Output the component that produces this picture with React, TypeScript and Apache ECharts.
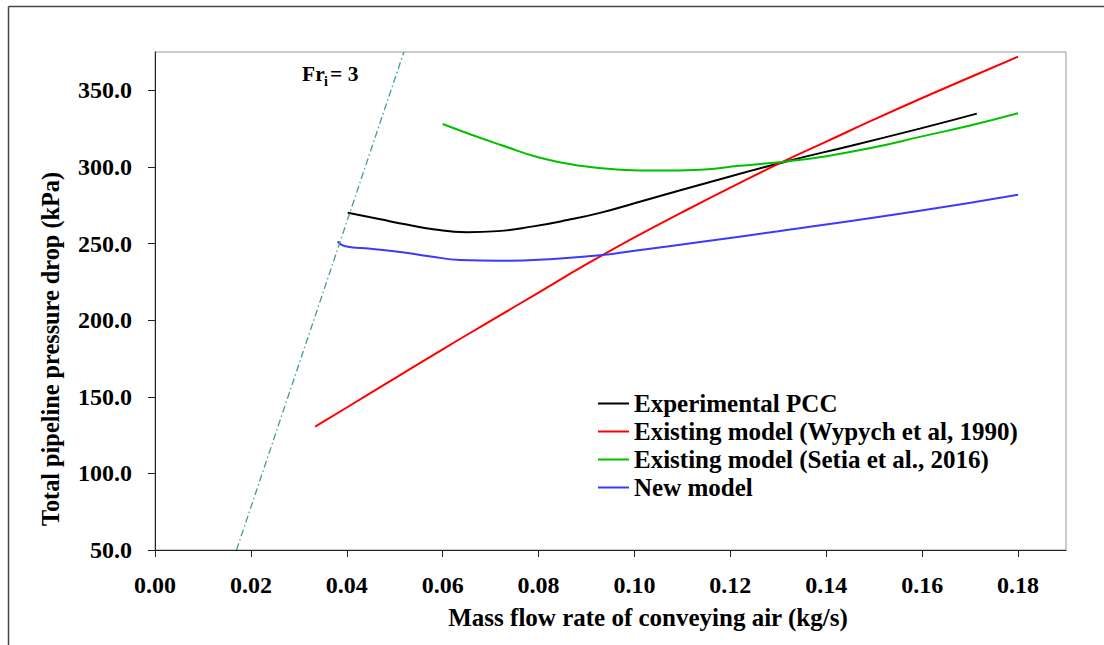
import React, { useEffect, useRef } from "react";
import * as echarts from "echarts";

const xTicks = [0, 0.02, 0.04, 0.06, 0.08, 0.1, 0.12, 0.14, 0.16, 0.18];
const yTicks = [50, 100, 150, 200, 250, 300, 350];

const seriesNames = [
  "Experimental PCC",
  "Existing model (Wypych et al, 1990)",
  "Existing model (Setia et al., 2016)",
  "New model",
];

const experimentalPCC = [
  [0.0402, 270.1], [0.047, 265.8], [0.0525, 262.4], [0.058, 259.3], [0.065, 257.4],
  [0.0715, 258.1], [0.0789, 261.2], [0.086, 265.3], [0.0928, 270], [0.1, 276.3],
  [0.1137, 288.4], [0.1317, 303.6], [0.145, 313.7], [0.1595, 325], [0.1714, 334.8],
];

const wypych1990 = [
  [0.0334, 130.5], [0.04, 143], [0.05, 162], [0.06, 181], [0.07, 199.5],
  [0.08, 218], [0.09, 236.5], [0.1, 254], [0.11, 270.5], [0.12, 286.5],
  [0.13, 302], [0.14, 316.5], [0.15, 331], [0.16, 345], [0.17, 358.5], [0.18, 372],
];

const setia2016 = [
  [0.06, 328], [0.066, 321], [0.072, 314.5], [0.0803, 306], [0.0886, 300.8],
  [0.097, 298.2], [0.105, 297.6], [0.1137, 298.2], [0.122, 300.8], [0.1317, 303.6],
  [0.14, 307], [0.15, 312.8], [0.1595, 319.6], [0.17, 327], [0.18, 335],
];

const newModel = [
  [0.0381, 251.4], [0.0397, 248.2], [0.045, 246.6], [0.0511, 244.5], [0.0575, 241.6],
  [0.0636, 239.3], [0.072, 238.8], [0.082, 239.8], [0.0928, 242.3], [0.1, 245.3],
  [0.1137, 251], [0.13, 258], [0.1595, 271.4], [0.18, 281.9],
];

const froudeLine = [
  [0.017, 50], [0.0519, 375],
];

const colors = ["#000000", "#ff0000", "#00c000", "#3a3aff"];
const FONT = "'Liberation Serif', 'Times New Roman', serif";

export default function App() {
  const ref = useRef<HTMLDivElement>(null);
  useEffect(() => {
    if (!ref.current) return;
    const chart = echarts.init(ref.current, undefined, { renderer: "svg" });
    const datasets = [experimentalPCC, wypych1990, setia2016, newModel];
    const option: any = {
      animation: false,
      backgroundColor: "#ffffff",
      grid: {
        left: 155, top: 52, right: 38, bottom: 95,
        show: true, borderColor: "#999999", borderWidth: 1, backgroundColor: "transparent",
      },
      legend: {
        data: seriesNames,
        orient: "vertical",
        left: 598,
        top: 391,
        padding: 0,
        itemGap: 3,
        itemWidth: 31,
        itemHeight: 2,
        icon: "rect",
        textStyle: { fontFamily: FONT, fontSize: 25, fontWeight: "bold", color: "#000" },
      },
      xAxis: {
        type: "value",
        min: 0,
        max: 0.19,
        interval: 0.02,
        splitLine: { show: false },
        axisLine: { lineStyle: { color: "#222", width: 1 } },
        axisTick: { length: 7, lineStyle: { color: "#222" }, customValues: xTicks },
        axisLabel: {
          customValues: xTicks,
          margin: 23,
          fontFamily: FONT, fontSize: 24, fontWeight: "bold", color: "#000",
          formatter: (v: number) => v.toFixed(2),
        },
      },
      yAxis: {
        type: "value",
        min: 50,
        max: 375,
        interval: 50,
        splitLine: { show: false },
        axisLine: { show: true, lineStyle: { color: "#222", width: 1 } },
        axisTick: { show: true, length: 7, lineStyle: { color: "#222" }, customValues: yTicks },
        axisLabel: {
          customValues: yTicks,
          margin: 23,
          fontFamily: FONT, fontSize: 24, fontWeight: "bold", color: "#000",
          formatter: (v: number) => v.toFixed(1),
        },
      },
      series: [
        ...seriesNames.map((name, i) => ({
          name,
          type: "line",
          data: datasets[i],
          smooth: 0.5,
          showSymbol: false,
          symbol: "none",
          color: colors[i],
          lineStyle: { color: colors[i], width: 2 },
        })),
        {
          name: "Fr",
          type: "line",
          data: froudeLine,
          showSymbol: false,
          symbol: "none",
          silent: true,
          color: "#3f9c9c",
          lineStyle: { color: "#3f9c9c", width: 1.3, type: [7, 3, 1.5, 3] },
        },
      ],
      graphic: [
        { type: "line", shape: { x1: 8.5, y1: 6.5, x2: 1104, y2: 6.5 }, style: { stroke: "#444", lineWidth: 1.5 } },
        { type: "line", shape: { x1: 8.5, y1: 6.5, x2: 8.5, y2: 645 }, style: { stroke: "#444", lineWidth: 1.5 } },
        {
          type: "text", x: 302, y: 74,
          style: { text: "Fr", fontFamily: FONT, fontSize: 21.5, fontWeight: "bold", fill: "#000", align: "left", verticalAlign: "middle" },
        },
        {
          type: "text", x: 324, y: 81,
          style: { text: "i", fontFamily: FONT, fontSize: 14, fontWeight: "bold", fill: "#000", align: "left", verticalAlign: "middle" },
        },
        {
          type: "text", x: 330, y: 74,
          style: { text: "= 3", fontFamily: FONT, fontSize: 21.5, fontWeight: "bold", fill: "#000", align: "left", verticalAlign: "middle" },
        },
        {
          type: "text", x: 648, y: 617,
          style: { text: "Mass flow rate of conveying air (kg/s)", fontFamily: FONT, fontSize: 25, fontWeight: "bold", fill: "#000", align: "center", verticalAlign: "middle" },
        },
        {
          type: "text", x: 50, y: 349, rotation: Math.PI / 2,
          style: { text: "Total pipeline pressure drop (kPa)", fontFamily: FONT, fontSize: 24.3, fontWeight: "bold", fill: "#000", align: "center", verticalAlign: "middle" },
        },
      ],
    };
    chart.setOption(option);
    return () => chart.dispose();
  }, []);
  return (
    <div
      ref={ref}
      style={{ position: "absolute", left: 0, top: 0, width: 1104, height: 645, background: "#fff" }}
    />
  );
}
